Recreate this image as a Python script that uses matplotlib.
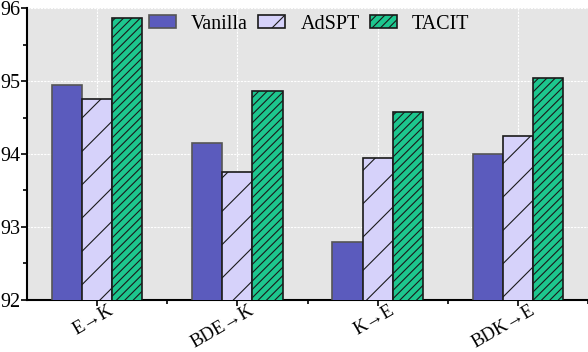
import numpy as np
import matplotlib.pyplot as plt
import matplotlib.transforms as mtransforms
from matplotlib.ticker import MultipleLocator

plt.rcParams['font.family'] = ['Liberation Serif', 'DejaVu Serif']
plt.rcParams['hatch.linewidth'] = 0.8

tasks = ['E→K', 'BDE→K', 'K→E', 'BDK→E']
vanilla = [94.95, 94.15, 92.80, 94.00]
adspt = [94.75, 93.75, 93.95, 94.25]
tacit = [95.87, 94.86, 94.57, 95.04]

x = np.arange(len(tasks))
w = 0.215

fig = plt.figure(figsize=(5.88, 3.52), dpi=100)
ax = fig.add_axes([0.046, 0.148, 0.954, 0.829])
ax.set_facecolor('#e5e5e5')

ax.bar(x - w, vanilla, w, color='#5b5bbd', edgecolor='#555555', linewidth=1.2, label='Vanilla', zorder=3)
ax.bar(x, adspt, w, color='#d6d2fa', edgecolor='#1a1a1a', linewidth=1.2, hatch='/', label='AdSPT', zorder=3)
ax.bar(x + w, tacit, w, color='#1dc68e', edgecolor='#1a1a1a', linewidth=1.2, hatch='////', label='TACIT', zorder=3)

ax.set_ylim(92, 96)
ax.set_xlim(-0.5, 3.5)
ax.set_yticks([92, 93, 94, 95, 96])
ax.yaxis.set_minor_locator(MultipleLocator(0.5))
ax.set_xticks(x)
ax.set_xticks(x + 0.5, minor=True)
ax.set_xticklabels(tasks, rotation=30, ha='right', rotation_mode='anchor', fontsize=13.5)
ax.tick_params(axis='y', labelsize=14.5, pad=1)
ax.tick_params(axis='x', pad=0)
ax.tick_params(which='both', direction='out', width=1.2, length=4)
ax.tick_params(which='minor', length=3)

# shift the rotated labels right and a little up, like the original
shift = mtransforms.ScaledTranslation(11 / 100, 4 / 100, fig.dpi_scale_trans)
for lbl in ax.get_xticklabels():
    lbl.set_transform(lbl.get_transform() + shift)

ax.grid(True, which='major', color='white', linestyle=(0, (2, 1)), linewidth=0.8, zorder=0)
ax.set_axisbelow(True)

for s in ['top', 'right']:
    ax.spines[s].set_visible(False)
for s in ['left', 'bottom']:
    ax.spines[s].set_linewidth(1.5)

ax.legend(loc='upper center', bbox_to_anchor=(0.503, 1.04), ncol=3, frameon=False,
          fontsize=14.5, handlelength=1.35, handleheight=0.65, handletextpad=0.75,
          columnspacing=0.5)

fig.savefig('out.png', dpi=100)
